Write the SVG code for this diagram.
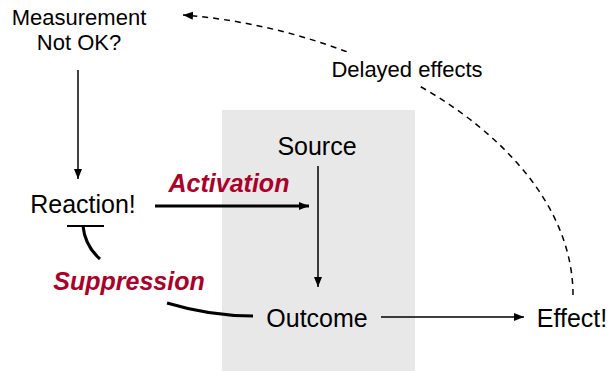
<svg xmlns="http://www.w3.org/2000/svg" width="609" height="371" viewBox="0 0 609 371">
<style>
text{font-family:"Liberation Sans",Arial,sans-serif;fill:#000;text-anchor:middle}
.n{font-size:25px}
.s{font-size:22px}
.r{font-size:25px;font-weight:bold;font-style:italic;fill:#a8002a}
.thin{stroke:#000;stroke-width:1.5;fill:none}
.thick{stroke:#000;stroke-width:3;fill:none}
.dash{stroke:#000;stroke-width:1.5;fill:none;stroke-dasharray:6 5}
</style>
<defs>
<marker id="ah" viewBox="0 0 10 10" refX="10" refY="5" markerWidth="10" markerHeight="10" markerUnits="userSpaceOnUse" orient="auto"><path d="M0,1 L10,5 L0,9 Z" fill="#000"/></marker>
<marker id="ahb" viewBox="0 0 10 10" refX="10" refY="5" markerWidth="12" markerHeight="10" markerUnits="userSpaceOnUse" orient="auto"><path d="M0,1 L10,5 L0,9 Z" fill="#000"/></marker>
</defs>
<rect x="222" y="110" width="193" height="261" fill="#e8e8e8"/>
<g id="connectors">
<path class="dash" d="M573,295 C573,150 380,30 183,15" marker-end="url(#ah)"/>
<rect x="326" y="52" width="162" height="34" fill="#fff"/>
<line class="thin" x1="78" y1="70" x2="78" y2="179" marker-end="url(#ah)"/>
<line class="thick" x1="155" y1="206" x2="309" y2="206" marker-end="url(#ahb)"/>
<line class="thin" x1="318" y1="166" x2="318" y2="287" marker-end="url(#ah)"/>
<line class="thin" x1="381" y1="317" x2="524" y2="317" marker-end="url(#ah)"/>
<path class="thick" d="M83,226 Q85,246 100,259"/>
<path class="thick" d="M167,303 Q210,316 253,316"/>
<line x1="67" y1="226" x2="104" y2="226" stroke="#000" stroke-width="2"/>
</g>
<g id="measurement"><text class="s" x="79" y="25">Measurement</text><text class="s" x="79" y="50">Not OK?</text></g>
<g id="delayed"><text class="s" x="407" y="77">Delayed effects</text></g>
<g id="reaction"><text class="n" x="83" y="213">Reaction!</text></g>
<g id="activation"><text class="r" x="229" y="192">Activation</text></g>
<g id="source"><text class="n" x="317" y="155">Source</text></g>
<g id="suppression"><text class="r" x="129" y="290">Suppression</text></g>
<g id="outcome"><text class="n" x="317" y="327">Outcome</text></g>
<g id="effect"><text class="n" x="572" y="327">Effect!</text></g>
</svg>
